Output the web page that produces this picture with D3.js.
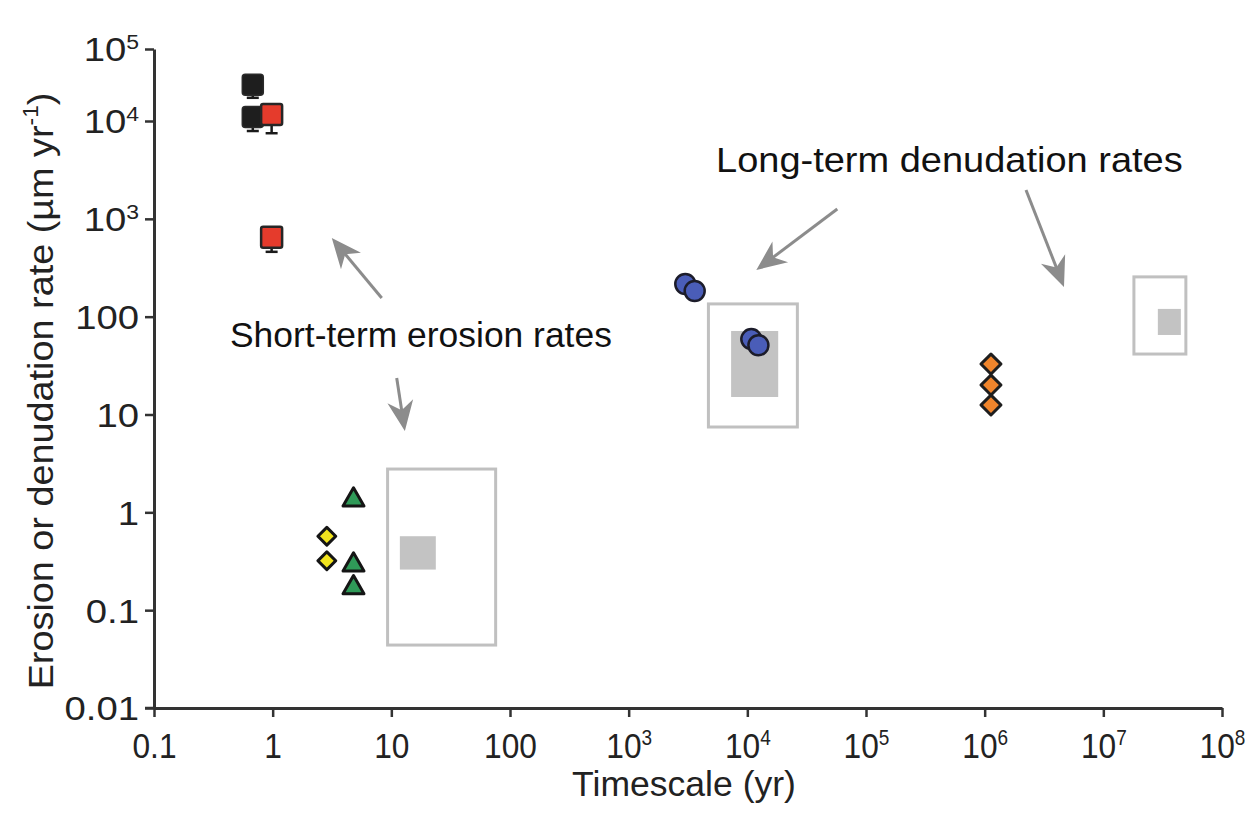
<!DOCTYPE html>
<html>
<head>
<meta charset="utf-8">
<script src="https://cdn.jsdelivr.net/npm/d3@7"></script>
<style>
  body { margin: 0; background: #fff; }
  svg { display: block; font-family: "Liberation Sans", Arial, sans-serif; }
</style>
</head>
<body>
<svg id="chart"></svg>
<script>
// Data (timescale in yr, rate in µm/yr)
const blackSquares = [
  { t: 0.68, rate: 3.2e4, low: 2.1e4 },
  { t: 0.68, rate: 1.14e4, low: 7.9e3 }
];
const redSquares = [
  { t: 0.98, rate: 1.23e4, low: 7.5e3 },
  { t: 0.98, rate: 650, low: 460 }
];
const yellowDiamonds = [
  { t: 2.86, rate: 0.57 },
  { t: 2.86, rate: 0.32 }
];
const greenTriangles = [
  { t: 4.8, rate: 1.34 },
  { t: 4.8, rate: 0.29 },
  { t: 4.8, rate: 0.17 }
];
const blueCircles = [
  { t: 3.0e3, rate: 216 },
  { t: 3.6e3, rate: 183 },
  { t: 1.08e4, rate: 59 },
  { t: 1.24e4, rate: 51 }
];
const orangeDiamonds = [
  { t: 1.13e6, rate: 32.8 },
  { t: 1.13e6, rate: 20 },
  { t: 1.13e6, rate: 12.5 }
];
// outer range boxes and filled core boxes
const rangeBoxes = [
  { t0: 9.3, t1: 75.7, r0: 0.044, r1: 2.77 },
  { t0: 4.7e3, t1: 2.64e4, r0: 7.45, r1: 135 },
  { t0: 1.81e7, t1: 4.96e7, r0: 41.5, r1: 255 }
];
const coreBoxes = [
  { t0: 11.8, t1: 23.7, r0: 0.26, r1: 0.57 },
  { t0: 7.3e3, t1: 1.82e4, r0: 15.1, r1: 71.4 },
  { t0: 2.88e7, t1: 4.5e7, r0: 65, r1: 120 }
];
// annotation arrows: from (t, rate) to (t, rate)
const arrows = [
  { t0: 8.3, r0: 155, t1: 3.15, r1: 637 },
  { t0: 11.1, r0: 23.6, t1: 13.0, r1: 6.8 },
  { t0: 5.73e4, r0: 1262, t1: 1.19e4, r1: 300 },
  { t0: 2.23e6, r0: 1972, t1: 4.66e6, r1: 201 }
];
const xTicks = [0.1, 1, 10, 100, 1e3, 1e4, 1e5, 1e6, 1e7, 1e8];
const yTicks = [0.01, 0.1, 1, 10, 100, 1e3, 1e4, 1e5];

const width = 1245, height = 822;
const svg = d3.select("#chart").attr("width", width).attr("height", height);

const x = d3.scaleLog().domain([0.1, 1e8]).range([154, 1222]);
// the top decade of the original axis is drawn shorter than the others
const y = d3.scaleLog().domain([0.01, 1e4, 1e5]).range([708, 121, 49]);

const axisColor = "#333";
const grey = "#8c8c8c";

// tick label text: plain numbers up to 100, powers of ten above
function labelParts(v) {
  if (v < 1000) return [String(v)];
  return ["10", String(Math.round(Math.log10(v)))];
}
function writeLabel(text, v) {
  const parts = labelParts(v);
  text.append("tspan").text(parts[0]);
  if (parts[1]) {
    text.append("tspan")
      .attr("font-size", "0.6em")
      .attr("dy", "-0.62em")
      .text(parts[1]);
  }
}

// ---- boxes
svg.append("g").selectAll("rect")
  .data(rangeBoxes)
  .join("rect")
  .attr("x", d => x(d.t0))
  .attr("y", d => y(d.r1))
  .attr("width", d => x(d.t1) - x(d.t0))
  .attr("height", d => y(d.r0) - y(d.r1))
  .attr("fill", "none")
  .attr("stroke", "#c0c0c0")
  .attr("stroke-width", 3);

svg.append("g").selectAll("rect")
  .data(coreBoxes)
  .join("rect")
  .attr("x", d => x(d.t0))
  .attr("y", d => y(d.r1))
  .attr("width", d => x(d.t1) - x(d.t0))
  .attr("height", d => y(d.r0) - y(d.r1))
  .attr("fill", "#c3c3c3");

// ---- axes
const yAxis = svg.append("g")
  .attr("transform", `translate(${x(0.1)},0)`)
  .call(d3.axisLeft(y).tickValues(yTicks).tickSize(9).tickSizeOuter(0).tickFormat(""));

const xAxis = svg.append("g")
  .attr("transform", `translate(0,${y(0.01)})`)
  .call(d3.axisBottom(x).tickValues(xTicks).tickSize(9).tickSizeOuter(0).tickFormat(""));

[xAxis, yAxis].forEach(g => {
  g.attr("font-family", null);
  g.select(".domain").attr("stroke", axisColor).attr("stroke-width", 3);
  g.selectAll(".tick line").attr("stroke", axisColor).attr("stroke-width", 2.5);
  g.selectAll(".tick text").remove();
});

yAxis.selectAll(".tick").each(function(d) {
  const t = d3.select(this).append("text")
    .attr("text-anchor", "end")
    .attr("dy", "0.36em")
    .attr("fill", "#222")
    .attr("font-size", 33)
    .attr("transform", "translate(-15,0) scale(1.16,1)");
  writeLabel(t, d);
});

xAxis.selectAll(".tick").each(function(d) {
  const t = d3.select(this).append("text")
    .attr("text-anchor", "middle")
    .attr("fill", "#222")
    .attr("font-size", 36)
    .attr("transform", "translate(0,50) scale(0.88,1)");
  writeLabel(t, d);
});

// extend the bottom-left corner tick like the original
svg.append("line")
  .attr("x1", x(0.1) - 9).attr("x2", x(0.1))
  .attr("y1", y(0.01)).attr("y2", y(0.01))
  .attr("stroke", axisColor).attr("stroke-width", 2.5);

// fit a text's width to a target length
function fitText(sel, target, transformBase) {
  const w = sel.node().getBBox().width;
  sel.attr("transform", `${transformBase} scale(${target / w},1)`);
}

// axis titles
const xTitle = svg.append("text")
  .attr("text-anchor", "middle")
  .attr("font-size", 35)
  .attr("fill", "#222")
  .text("Timescale (yr)");
fitText(xTitle, 224, "translate(684,796)");

const yTitle = svg.append("text")
  .attr("text-anchor", "middle")
  .attr("font-size", 36)
  .attr("fill", "#222");
yTitle.append("tspan").text("Erosion or denudation rate (\u00b5m yr");
yTitle.append("tspan").attr("font-size", "0.6em").attr("dy", "-0.7em").text("-1");
yTitle.append("tspan").attr("dy", "0.42em").text(")");
fitText(yTitle, 597, "translate(53,391) rotate(-90)");

// ---- annotation arrows
svg.append("defs").append("marker")
  .attr("id", "head")
  .attr("viewBox", "-32 -16 34 32")
  .attr("markerUnits", "userSpaceOnUse")
  .attr("markerWidth", 34)
  .attr("markerHeight", 32)
  .attr("refX", -9)
  .attr("refY", 0)
  .attr("orient", "auto")
  .append("path")
  .attr("d", "M0,0 L-30,-13 L-21,0 L-30,13 Z")
  .attr("fill", grey);

svg.append("g").selectAll("line")
  .data(arrows)
  .join("line")
  .each(function(d) {
    const x0 = x(d.t0), y0 = y(d.r0), x1 = x(d.t1), y1 = y(d.r1);
    const len = Math.hypot(x1 - x0, y1 - y0);
    const k = (len - 9) / len;
    d3.select(this)
      .attr("x1", x0).attr("y1", y0)
      .attr("x2", x0 + (x1 - x0) * k).attr("y2", y0 + (y1 - y0) * k);
  })
  .attr("stroke", grey)
  .attr("stroke-width", 3)
  .attr("marker-end", "url(#head)");

const shortLabel = svg.append("text")
  .attr("font-size", 35)
  .attr("fill", "#111")
  .text("Short-term erosion rates");
fitText(shortLabel, 382, "translate(230,347)");

const longLabel = svg.append("text")
  .attr("font-size", 35)
  .attr("fill", "#111")
  .text("Long-term denudation rates");
fitText(longLabel, 467, "translate(716,172)");

// ---- markers
const sq = 21;
const errData = blackSquares.concat(redSquares);
const err = svg.append("g").attr("stroke", "#1a1a1a").attr("stroke-width", 2.5);
err.selectAll("line.stem")
  .data(errData)
  .join("line")
  .attr("class", "stem")
  .attr("x1", d => x(d.t)).attr("x2", d => x(d.t))
  .attr("y1", d => y(d.rate)).attr("y2", d => y(d.low));
err.selectAll("line.cap")
  .data(errData)
  .join("line")
  .attr("class", "cap")
  .attr("x1", d => x(d.t) - 6).attr("x2", d => x(d.t) + 6)
  .attr("y1", d => y(d.low)).attr("y2", d => y(d.low));

svg.append("g").selectAll("rect")
  .data(blackSquares)
  .join("rect")
  .attr("x", d => x(d.t) - sq / 2)
  .attr("y", d => y(d.rate) - sq / 2)
  .attr("width", sq).attr("height", sq)
  .attr("rx", 3)
  .attr("fill", "#1e1e1e")
  .attr("stroke", "#2a2a2a")
  .attr("stroke-width", 1.5);

svg.append("g").selectAll("rect")
  .data(redSquares)
  .join("rect")
  .attr("x", d => x(d.t) - sq / 2)
  .attr("y", d => y(d.rate) - sq / 2)
  .attr("width", sq).attr("height", sq)
  .attr("rx", 2)
  .attr("fill", "#e53b2c")
  .attr("stroke", "#262626")
  .attr("stroke-width", 2.5);

svg.append("g").selectAll("path")
  .data(yellowDiamonds)
  .join("path")
  .attr("d", d3.symbol(d3.symbolSquare, 160))
  .attr("transform", d => `translate(${x(d.t)},${y(d.rate)}) rotate(45)`)
  .attr("fill", "#f2e41e")
  .attr("stroke", "#151515")
  .attr("stroke-width", 3)
  .attr("stroke-linejoin", "round");

svg.append("g").selectAll("path")
  .data(greenTriangles)
  .join("path")
  .attr("d", d3.symbol(d3.symbolTriangle, 190))
  .attr("transform", d => `translate(${x(d.t)},${y(d.rate)})`)
  .attr("fill", "#2f9a58")
  .attr("stroke", "#151515")
  .attr("stroke-width", 3)
  .attr("stroke-linejoin", "round");

svg.append("g").selectAll("circle")
  .data(blueCircles)
  .join("circle")
  .attr("cx", d => x(d.t))
  .attr("cy", d => y(d.rate))
  .attr("r", 10)
  .attr("fill", "#4a5db8")
  .attr("stroke", "#1c1c2a")
  .attr("stroke-width", 2.5);

svg.append("g").selectAll("path")
  .data(orangeDiamonds)
  .join("path")
  .attr("d", d3.symbol(d3.symbolSquare, 200))
  .attr("transform", d => `translate(${x(d.t)},${y(d.rate)}) rotate(45)`)
  .attr("fill", "#f0852c")
  .attr("stroke", "#1e1e1e")
  .attr("stroke-width", 3)
  .attr("stroke-linejoin", "round");
</script>
</body>
</html>
